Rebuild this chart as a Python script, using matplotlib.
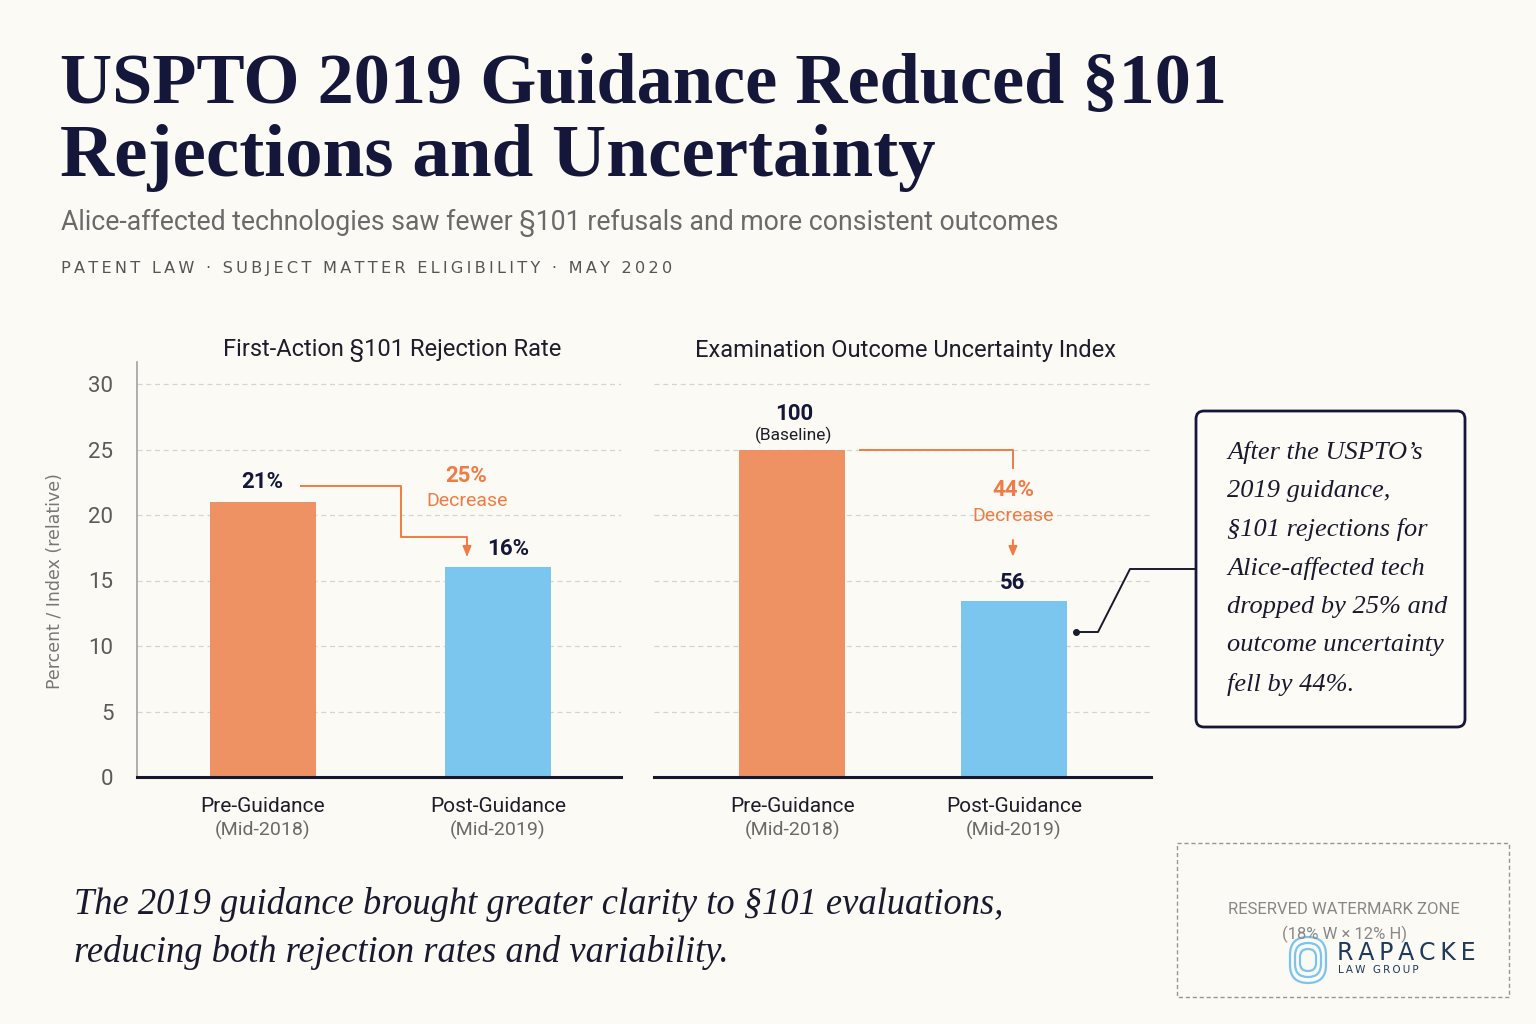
import numpy as np
import matplotlib.pyplot as plt
from matplotlib.patches import FancyBboxPatch, Rectangle
from matplotlib.lines import Line2D

# ==========================================================
# DADOS
# ==========================================================
categorias = ['Pre-Guidance', 'Post-Guidance']
periodos = ['(Mid-2018)', '(Mid-2019)']

taxa_rejeicao = [21, 16]            # % first-action §101
rotulos_taxa = ['21%', '16%']

indice_incerteza = [100, 56]        # índice (100 = baseline)
alturas_incerteza = [25.0, 13.4]    # altura desenhada no eixo comum
rotulos_incerteza = ['100', '56']

queda_taxa = '25%'
queda_incerteza = '44%'

yticks = [0, 5, 10, 15, 20, 25, 30]

# ==========================================================
# ESTILO
# ==========================================================
BG = '#FBFAF4'
NAVY = '#15173A'
LARANJA = '#EE9263'
AZUL = '#7BC6EF'
SETA = '#F07B46'

W, H = 1536, 1024
fig = plt.figure(figsize=(W / 100, H / 100), dpi=100, facecolor=BG)

def px_box(x0, x1, y_top, y_bot):
    return [x0 / W, 1 - y_bot / H, (x1 - x0) / W, (y_bot - y_top) / H]

# escala vertical: 0 em y=777, 30 em y=384
px_por_unid = (777 - 384) / 30
y_max = (777 - 362) / px_por_unid

ax1 = fig.add_axes(px_box(137, 621, 362, 777))
ax2 = fig.add_axes(px_box(654, 1151, 362, 777))

def prepara(ax, xlim, eixo_y):
    ax.set_facecolor('none')
    ax.set_xlim(*xlim)
    ax.set_ylim(0, y_max)
    ax.set_yticks(yticks)
    ax.grid(axis='y', color='#d6d4cc', linestyle=(0, (4, 3)), linewidth=0.9)
    ax.set_axisbelow(True)
    ax.spines['top'].set_visible(False)
    ax.spines['right'].set_visible(False)
    ax.spines['bottom'].set_color('#16182b')
    ax.spines['bottom'].set_linewidth(2.2)
    ax.tick_params(axis='x', length=0, labelbottom=False)
    if eixo_y:
        ax.spines['left'].set_color('#a0a0a0')
        ax.spines['left'].set_linewidth(1.2)
        ax.tick_params(axis='y', length=0, pad=17, labelsize=16, labelcolor='#5a5a5a')
        for lb in ax.get_yticklabels():
            lb.set_fontfamily('Roboto')
    else:
        ax.spines['left'].set_visible(False)
        ax.tick_params(axis='y', length=0, labelleft=False)

prepara(ax1, (-0.536, 1.523), True)
prepara(ax2, (-0.622, 1.617), False)

x = np.arange(len(categorias))
ax1.bar(x, taxa_rejeicao, width=0.45, color=[LARANJA, AZUL], zorder=2)
ax2.bar(x, alturas_incerteza, width=0.48, color=[LARANJA, AZUL], zorder=2)

# rótulos das categorias
for ax in (ax1, ax2):
    for i in x:
        ax.annotate(categorias[i], xy=(i, 0), xycoords=('data', 'axes fraction'),
                    xytext=(0, -29), textcoords='offset pixels', ha='center', va='center',
                    fontsize=15, family='Roboto', color='#1d1d2b')
        ax.annotate(periodos[i], xy=(i, 0), xycoords=('data', 'axes fraction'),
                    xytext=(0, -53), textcoords='offset pixels', ha='center', va='center',
                    fontsize=14, family='Roboto', color='#6a6a6a')

# títulos dos painéis
ax1.text(0.527, 1.0, 'First-Action §101 Rejection Rate', transform=ax1.transAxes, fontsize=17,
         family='Roboto', color='#1d1d2b', ha='center', va='bottom')
ax2.text(0.507, 1.0, 'Examination Outcome Uncertainty Index', transform=ax2.transAxes, fontsize=17,
         family='Roboto', color='#1d1d2b', ha='center', va='bottom')

# valores acima das barras
ax1.annotate(rotulos_taxa[0], xy=(0, taxa_rejeicao[0]), xytext=(-1, 9), textcoords='offset pixels',
             ha='center', va='bottom', fontsize=16, fontweight='bold', family='Roboto', color=NAVY)
ax1.annotate(rotulos_taxa[1], xy=(1, taxa_rejeicao[1]), xytext=(10, 7), textcoords='offset pixels',
             ha='center', va='bottom', fontsize=16, fontweight='bold', family='Roboto', color=NAVY)
ax2.annotate(rotulos_incerteza[0], xy=(0, alturas_incerteza[0]), xytext=(2, 25), textcoords='offset pixels',
             ha='center', va='bottom', fontsize=16, fontweight='bold', family='Roboto', color=NAVY)
ax2.annotate('(Baseline)', xy=(0, alturas_incerteza[0]), xytext=(1, 6), textcoords='offset pixels',
             ha='center', va='bottom', fontsize=12.5, family='Roboto', color='#1d1d2b')
ax2.annotate(rotulos_incerteza[1], xy=(1, alturas_incerteza[1]), xytext=(-1, 7), textcoords='offset pixels',
             ha='center', va='bottom', fontsize=16, fontweight='bold', family='Roboto', color=NAVY)

# setas de queda - painel esquerdo
v0, v1 = taxa_rejeicao
ax1.plot([0.162, 0.587, 0.587, 0.868, 0.868], [v0 + 1.2, v0 + 1.2, v1 + 2.3, v1 + 2.3, v1 + 1.2],
         color=SETA, lw=1.4, zorder=3)
ax1.annotate('', xy=(0.868, v1 + 0.6), xytext=(0.868, v1 + 1.3),
             arrowprops=dict(arrowstyle='-|>,head_width=0.25,head_length=0.6', color=SETA, lw=1.4))
ax1.text(0.864, v0 + 2.0, queda_taxa, ha='center', va='center', fontsize=16, fontweight='bold',
         family='Roboto', color=SETA)
ax1.text(0.868, v0 + 0.1, 'Decrease', ha='center', va='center', fontsize=14, family='Roboto', color=SETA)

# setas de queda - painel direito
u0, u1 = alturas_incerteza
ax2.plot([0.306, 0.995, 0.995], [u0 - 0.05, u0 - 0.05, u0 - 1.4], color=SETA, lw=1.4, zorder=3)
ax2.annotate('', xy=(0.995, u1 + 3.2), xytext=(0.995, u1 + 4.9),
             arrowprops=dict(arrowstyle='-|>,head_width=0.25,head_length=0.6', color=SETA, lw=1.4))
ax2.text(0.995, u0 - 3.1, queda_incerteza, ha='center', va='center', fontsize=16, fontweight='bold',
         family='Roboto', color=SETA)
ax2.text(0.995, u0 - 5.1, 'Decrease', ha='center', va='center', fontsize=14, family='Roboto', color=SETA)

# ==========================================================
# CAMADA DE TEXTO (coordenadas em pixels)
# ==========================================================
ov = fig.add_axes([0, 0, 1, 1])
ov.set_xlim(0, W)
ov.set_ylim(H, 0)
ov.axis('off')
ov.patch.set_alpha(0)

ov.text(60, 86, 'USPTO 2019 Guidance Reduced §101', fontsize=52, fontweight='bold',
        family='Liberation Serif', color=NAVY, va='center', ha='left')
ov.text(60, 158, 'Rejections and Uncertainty', fontsize=54, fontweight='bold',
        family='Liberation Serif', color=NAVY, va='center', ha='left')
ov.text(61, 223, 'Alice-affected technologies saw fewer §101 refusals and more consistent outcomes',
        fontsize=19.2, family='Roboto', color='#6a6a6a', va='center', ha='left')
tag = 'PATENT LAW · SUBJECT MATTER ELIGIBILITY · MAY 2020'
ov.text(61, 269, '\u2009'.join(tag), fontsize=11.6, family='DejaVu Sans', color='#555555',
        va='center', ha='left')

ov.text(55, 581, 'Percent / Index (relative)', rotation=90, fontsize=12.5, family='DejaVu Sans',
        color='#777777', va='center', ha='center')

# caixa de destaque
ov.add_patch(FancyBboxPatch((1196, 411), 269, 316, boxstyle='round,pad=0,rounding_size=8',
                            facecolor='#FCFBF6', edgecolor=NAVY, lw=2))
linhas = ['After the USPTO’s', '2019 guidance,', '§101 rejections for', 'Alice-affected tech',
          'dropped by 25% and', 'outcome uncertainty', 'fell by 44%.']
for k, s in enumerate(linhas):
    ov.text(1227, 452 + k * 38.7, s, fontsize=19, style='italic', family='Liberation Serif',
            color='#1a1a2e', va='center', ha='left')

# conector
ov.add_line(Line2D([1076, 1098, 1130, 1195], [632, 632, 569, 569], color='#1a1a2e', lw=1.4))
ov.plot([1076], [632], 'o', color='#1a1a2e', ms=4)

# texto final
ov.text(74, 905, 'The 2019 guidance brought greater clarity to §101 evaluations,', fontsize=26.3,
        style='italic', family='Liberation Serif', color='#1a1a2e', va='center', ha='left')
ov.text(74, 952, 'reducing both rejection rates and variability.', fontsize=26.3,
        style='italic', family='Liberation Serif', color='#1a1a2e', va='center', ha='left')

# zona de marca d'água
ov.add_patch(Rectangle((1177, 843), 332, 154, fill=False, edgecolor='#9a9590', lw=1,
                       linestyle=(0, (3, 2))))
ov.text(1344, 910, 'RESERVED WATERMARK ZONE', fontsize=12, family='Roboto', color='#888888',
        ha='center', va='center')
ov.text(1344, 934, '(18% W × 12% H)', fontsize=12, family='Roboto', color='#888888',
        ha='center', va='center')
ov.text(1337, 953, '\u2009'.join('RAPACKE'), fontsize=17, family='DejaVu Sans', color='#1f3a5a',
        ha='left', va='center')
ov.text(1338, 970, '\u2009'.join('LAW GROUP'), fontsize=7.5, family='DejaVu Sans', color='#1f3a5a',
        ha='left', va='center')
# ícone simples
for w_, h_ in [(36, 46), (26, 34), (16, 22)]:
    ov.add_patch(FancyBboxPatch((1308 - w_ / 2, 960 - h_ / 2), w_, h_,
                                boxstyle=f'round,pad=0,rounding_size={w_ / 2}',
                                fill=False, edgecolor='#7cc4ee', lw=1.6))

fig.savefig('out.png', dpi=100, facecolor=BG)
